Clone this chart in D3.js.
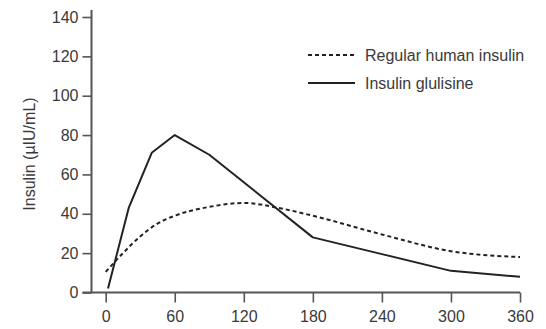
<!DOCTYPE html>
<html>
<head>
<meta charset="utf-8">
<script src="https://cdn.jsdelivr.net/npm/d3@7"></script>
<style>
  body { margin: 0; background: #fff; }
  text { font-family: "Liberation Sans", Arial, sans-serif; }
</style>
</head>
<body>
<script>
// time in minutes
var xTicks = [0, 60, 120, 180, 240, 300, 360];
var yTicks = [0, 20, 40, 60, 80, 100, 120, 140];

var regularTime  = [0, 15, 30, 45, 60, 90, 120, 150, 180, 240, 300, 360];
var regularValue = [10.5, 20, 28.5, 35, 39, 43.5, 45.5, 43, 39, 29.5, 21, 18];

var glulisineTime  = [2, 20, 40, 60, 90, 180, 240, 300, 360];
var glulisineValue = [2, 43, 71, 80, 70, 28, 19.5, 11, 8];

var seriesNames = ["Regular human insulin", "Insulin glulisine"];

var width = 546, height = 329;
var svg = d3.select("body").append("svg")
    .attr("width", width)
    .attr("height", height);

var axisX = 91.5, axisY = 292.5;
var x = d3.scaleLinear().domain([0, 360]).range([105.7, 520]);
var y = d3.scaleLinear().domain([0, 140]).range([axisY, 17]);

var axisColor = "#555", inkColor = "#222", textColor = "#3a3a3a";
var fontSize = "16px";

// y axis
var gy = svg.append("g")
    .attr("transform", "translate(" + axisX + ",0)")
    .call(d3.axisLeft(y).tickValues(yTicks).tickSize(9).tickPadding(4));
gy.select(".domain").remove();
gy.selectAll(".tick line").attr("stroke", axisColor).attr("stroke-width", 1.6);
gy.selectAll(".tick text").attr("fill", textColor).style("font-size", fontSize)
    .style("font-family", "'Liberation Sans', Arial, sans-serif");

// x axis
var gx = svg.append("g")
    .attr("transform", "translate(0," + axisY + ")")
    .call(d3.axisBottom(x).tickValues(xTicks).tickSize(10).tickPadding(8));
gx.select(".domain").remove();
gx.selectAll(".tick line").attr("stroke", axisColor).attr("stroke-width", 1.6);
gx.selectAll(".tick text").attr("fill", textColor).style("font-size", fontSize)
    .style("font-family", "'Liberation Sans', Arial, sans-serif");

// axis lines
svg.append("line")
    .attr("x1", axisX).attr("x2", axisX)
    .attr("y1", 10).attr("y2", axisY)
    .attr("stroke", axisColor).attr("stroke-width", 2);
svg.append("line")
    .attr("x1", axisX - 9).attr("x2", x(360))
    .attr("y1", axisY).attr("y2", axisY)
    .attr("stroke", axisColor).attr("stroke-width", 2);

// y label
svg.append("text")
    .attr("transform", "translate(35,154) rotate(-90)")
    .attr("text-anchor", "middle")
    .attr("fill", textColor)
    .style("font-size", fontSize)
    .text("Insulin (\u00b5IU/mL)");

// lines
var regular = regularTime.map(function(t, i){ return [t, regularValue[i]]; });
var glulisine = glulisineTime.map(function(t, i){ return [t, glulisineValue[i]]; });

var smooth = d3.line()
    .x(function(d){ return x(d[0]); })
    .y(function(d){ return y(d[1]); })
    .curve(d3.curveMonotoneX);
var straight = d3.line()
    .x(function(d){ return x(d[0]); })
    .y(function(d){ return y(d[1]); });

svg.append("path")
    .attr("d", smooth(regular))
    .attr("fill", "none")
    .attr("stroke", inkColor)
    .attr("stroke-width", 2)
    .attr("stroke-dasharray", "4,3");

svg.append("path")
    .attr("d", straight(glulisine))
    .attr("fill", "none")
    .attr("stroke", inkColor)
    .attr("stroke-width", 2)
    .attr("stroke-linejoin", "round");

// legend
var legend = svg.append("g");
seriesNames.forEach(function(name, i){
    var ly = 55 + i * 28;
    legend.append("line")
        .attr("x1", 308).attr("x2", 355)
        .attr("y1", ly).attr("y2", ly)
        .attr("stroke", inkColor)
        .attr("stroke-width", 2)
        .attr("stroke-dasharray", i === 0 ? "4,3" : null);
    legend.append("text")
        .attr("x", 365).attr("y", ly)
        .attr("dy", "0.35em")
        .attr("fill", textColor)
        .style("font-size", fontSize)
        .text(name);
});
</script>
</body>
</html>
